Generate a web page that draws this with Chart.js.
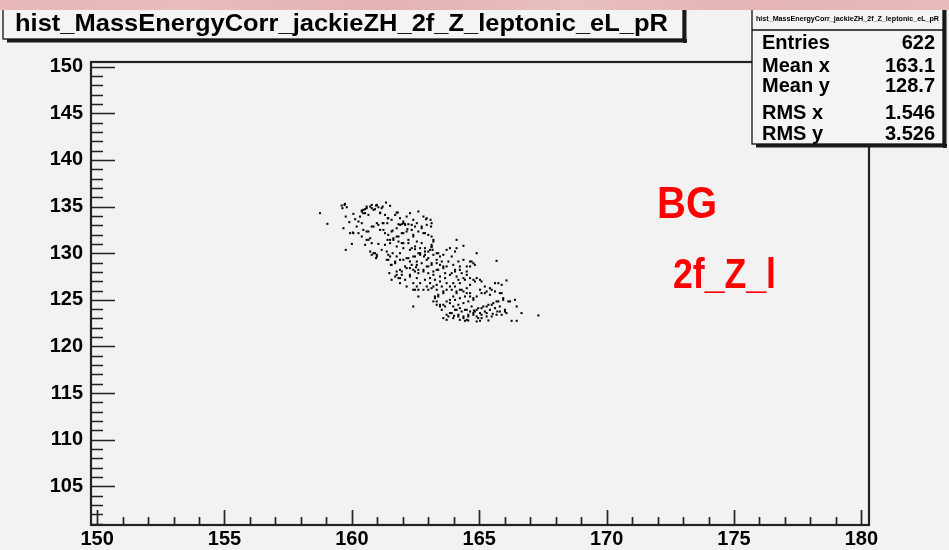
<!DOCTYPE html>
<html><head><meta charset="utf-8">
<script src="https://cdn.jsdelivr.net/npm/chart.js@4/dist/chart.umd.min.js"></script>
<style>
html,body{margin:0;padding:0;background:#f2f2f2;overflow:hidden}
#wrap{position:relative;width:949px;height:550px}
canvas{display:block}
</style></head>
<body><div id="wrap"><canvas id="c" width="949" height="550"></canvas></div>
<script>
const titleText = "hist_MassEnergyCorr_jackieZH_2f_Z_leptonic_eL_pR";
const statsLabels = ["Entries", "Mean x", "Mean y", "RMS x", "RMS y"];
const statsValues = ["622", "163.1", "128.7", "1.546", "3.526"];
const noteLines = ["BG", "2f_Z_l"];
const xTicks = [150, 155, 160, 165, 170, 175, 180];
const yTicks = [105, 110, 115, 120, 125, 130, 135, 140, 145, 150];
const xRange = [149.76, 180.3];
const yRange = [100.86, 150.5];

// scatter points: mass (x) and energy (y)
const massX = [
158.75,159.04,159.60,159.71,159.80,159.76,159.67,159.90,160.06,160.13,159.93,160.04,160.00,159.76,160.26,160.39,160.45,160.52,160.58,160.65,
160.72,160.78,160.85,160.91,160.98,161.04,161.11,161.17,161.34,161.50,161.30,161.43,161.21,160.98,160.78,160.58,160.39,160.65,160.78,161.04,
160.72,160.85,160.98,160.95,161.24,161.39,161.56,161.70,161.76,161.89,162.02,162.15,162.28,162.61,162.81,162.94,163.09,163.13,162.94,162.74,
162.55,162.35,162.09,161.89,161.76,161.56,161.43,161.50,161.63,161.83,162.02,162.15,162.41,162.61,162.87,163.00,163.13,163.20,163.13,163.07,
162.87,162.68,162.48,162.35,162.22,161.96,161.76,161.60,161.43,161.37,161.53,161.70,161.89,162.15,162.28,162.48,162.68,162.87,162.94,162.74,
162.55,162.41,162.28,162.09,161.89,161.76,161.70,161.83,161.96,162.28,162.48,162.61,162.81,163.00,163.13,163.33,163.39,163.59,163.72,163.85,
164.11,164.38,164.11,163.92,163.79,163.59,163.46,163.33,163.20,163.07,162.87,162.68,162.55,162.48,162.61,162.41,162.81,163.00,163.20,163.33,
163.46,163.66,163.85,164.05,164.24,164.51,164.64,164.77,164.90,165.68,165.03,165.09,164.83,164.64,164.51,164.38,164.18,163.98,163.85,163.72,
163.59,163.39,163.26,163.20,163.33,163.46,163.59,163.72,163.85,163.98,164.11,164.24,164.38,164.51,164.64,164.77,164.90,165.09,165.29,165.49,
165.62,165.75,165.88,166.07,165.88,165.94,165.68,165.49,165.29,165.09,164.90,164.77,164.64,164.44,164.24,164.05,163.85,163.72,163.59,163.72,
163.98,164.18,164.38,164.57,164.77,164.96,165.09,165.29,165.49,165.68,165.81,166.01,166.21,166.40,166.47,166.66,166.27,166.47,167.32,164.24,
164.51,164.90,
160.06,159.63,159.73,160.39,160.45,160.52,160.32,160.19,160.39,160.45,160.26,160.58,160.65,160.72,160.52,160.78,160.91,160.98,
160.58,160.78,160.95,161.21,161.11,161.41,161.24,161.04,160.85,161.11,161.30,161.60,161.40,161.50,161.30,161.17,161.37,161.50,161.43,161.56,
161.70,161.47,161.56,161.89,
161.80,162.02,161.83,161.96,162.09,162.22,162.41,162.48,162.35,162.18,161.96,161.76,161.63,161.83,162.02,162.22,162.41,162.55,162.48,162.28,
162.02,161.89,161.76,162.02,162.22,162.41,162.61,162.55,162.35,162.15,161.96,161.76,161.89,162.09,162.28,162.52,162.61,162.55,162.41,162.15,
162.41,162.61,
162.91,163.11,162.74,162.81,163.20,163.13,163.13,163.17,163.00,162.87,162.74,162.68,162.83,163.00,163.20,163.33,163.46,163.53,163.33,163.13,
162.94,162.81,163.00,163.20,163.39,163.59,163.72,163.66,163.46,163.26,163.07,162.94,163.13,163.33,163.53,163.72,163.59,163.39,163.26,163.33,
163.46,163.66,163.53,
164.05,163.98,164.18,164.38,164.24,164.05,163.92,164.11,164.31,164.51,164.64,164.70,164.83,164.44,164.24,164.05,163.92,164.11,164.31,164.51,
164.64,164.77,164.90,164.64,164.44,164.24,164.05,163.85,163.98,164.18,164.38,164.57,164.77,164.70,164.51,164.31,164.11,163.92,163.79,164.01,
164.18,164.38,164.57,164.79,164.44,164.57,
165.22,165.42,165.03,165.22,165.42,165.62,165.81,165.94,165.75,165.55,165.36,165.16,164.96,164.83,165.03,165.22,165.42,165.62,165.81,166.01,
166.14,164.90,165.09,165.29,165.53,165.71,165.88,166.07,165.03,165.36
];
const energyY = [
134.29,133.15,135.11,135.18,134.93,133.93,132.68,133.33,134.22,133.65,132.15,132.22,131.00,130.36,133.40,134.47,134.65,134.29,134.83,134.11,
135.00,135.18,134.65,134.72,135.18,134.93,134.36,134.83,135.43,135.08,134.11,133.75,133.22,133.22,132.86,132.33,131.79,131.43,131.08,131.00,
130.18,130.00,129.83,129.47,132.50,133.22,133.58,134.11,134.36,133.75,133.22,133.93,134.29,134.47,133.93,133.75,133.58,133.22,133.04,132.86,
133.22,133.04,133.04,133.04,132.68,132.33,131.97,131.43,131.61,131.79,132.15,132.33,131.97,132.33,132.15,131.97,131.79,131.25,130.72,130.36,
130.18,130.54,130.43,130.54,131.08,131.08,130.72,130.00,129.83,129.29,128.75,129.11,129.29,129.47,129.11,129.65,129.83,129.83,129.29,128.93,
128.75,128.22,128.40,128.58,128.22,128.04,127.50,127.33,127.68,127.68,128.04,127.86,128.22,128.58,128.93,129.29,130.00,129.83,130.36,130.54,
131.43,130.79,130.54,129.65,129.11,128.58,128.75,128.22,127.68,127.33,127.15,126.79,126.43,126.08,125.36,124.29,126.08,126.08,126.43,126.61,
126.97,127.33,127.68,128.04,128.22,128.58,129.11,128.93,130.00,129.18,127.15,126.97,126.97,127.33,127.68,127.33,127.15,126.79,126.43,126.08,
125.72,125.36,125.18,124.83,124.47,124.29,124.47,124.83,125.00,125.36,125.72,126.08,125.90,125.72,125.36,125.18,125.36,125.72,125.90,126.08,
126.79,126.79,126.61,127.08,125.72,125.00,124.83,124.47,124.29,124.11,123.93,123.58,123.75,123.93,124.11,123.93,123.58,123.40,123.04,122.86,
123.04,123.22,123.04,123.22,123.40,123.04,123.40,123.58,123.22,123.40,123.75,123.75,124.83,125.00,124.29,123.58,122.75,122.75,123.33,122.86,
122.86,122.68,
132.15,134.83,135.29,134.58,134.29,134.72,133.93,132.86,133.22,132.50,132.15,131.43,132.33,131.61,130.90,129.83,130.00,129.65,
135.00,134.83,135.11,135.00,134.29,133.75,133.22,133.04,132.86,132.50,132.15,132.43,131.43,131.08,130.90,130.36,130.18,129.65,129.29,128.75,
128.93,127.86,127.15,126.79,
134.36,133.40,133.11,133.11,133.11,133.11,133.58,132.86,132.50,132.58,132.15,131.79,131.43,131.25,131.08,131.43,131.79,131.25,130.72,130.36,
130.54,130.00,129.65,129.29,129.47,129.65,130.00,129.11,128.75,128.40,128.04,127.68,127.33,127.15,127.50,128.50,128.22,127.33,126.79,126.43,
126.08,126.08,
133.65,132.86,132.68,132.15,131.43,130.90,130.65,130.36,130.18,130.54,131.08,130.00,129.65,129.47,129.83,130.00,129.65,129.11,128.93,128.75,
128.58,128.04,127.86,128.04,128.22,128.40,128.58,127.86,127.50,127.15,126.79,126.43,126.25,126.08,126.43,126.79,125.90,125.54,125.36,124.83,
124.47,124.29,123.93,
130.18,128.75,129.11,129.29,128.58,128.22,127.86,127.50,127.86,128.04,128.58,129.11,128.75,127.15,126.79,126.43,126.08,125.90,126.08,126.25,
126.61,127.15,127.33,125.72,125.36,125.18,125.00,124.65,124.29,124.47,124.65,124.83,125.00,124.29,123.93,123.75,123.93,123.58,123.22,123.29,
123.40,123.22,123.40,123.86,122.75,122.79,
126.43,126.25,126.08,125.72,125.54,125.90,125.72,125.18,124.83,124.65,124.47,124.29,124.11,123.75,123.58,123.75,123.93,124.11,124.29,123.93,
124.83,123.22,123.04,123.22,123.50,123.75,123.40,123.58,122.75,122.79
];

const points = massX.map((x, i) => ({ x: x, y: energyY[i] }));

function fitText(ctx, text, x, y, w, font, align) {
  ctx.save();
  ctx.font = font;
  const m = ctx.measureText(text).width;
  const s = w / m;
  ctx.translate(x, y);
  ctx.scale(s, 1);
  ctx.textAlign = align || 'left';
  ctx.textBaseline = 'alphabetic';
  ctx.fillText(text, 0, 0);
  ctx.restore();
}

function shadowBox(ctx, l, t, r, b) {
  ctx.save();
  ctx.fillStyle = '#1a1a1a';
  ctx.fillRect(l + 4, b, r - l, 3.5);
  ctx.fillRect(r, t + 4, 3.5, b - t);
  ctx.fillStyle = '#f4f4f4';
  ctx.fillRect(l, t, r - l, b - t);
  ctx.strokeStyle = '#111';
  ctx.lineWidth = 1.3;
  ctx.strokeRect(l, t, r - l, b - t);
  ctx.restore();
}

const rootFrame = {
  id: 'rootFrame',
  beforeDraw(chart) {
    const ctx = chart.ctx;
    ctx.save();
    ctx.fillStyle = '#f2f2f2';
    ctx.fillRect(0, 0, chart.width, chart.height);
    ctx.restore();
  },
  afterDatasetsDraw(chart) {
    const ctx = chart.ctx;
    const a = chart.chartArea;
    const xs = chart.scales.x, ys = chart.scales.y;
    ctx.save();
    ctx.strokeStyle = '#222';
    ctx.lineWidth = 1.7;
    ctx.beginPath();
    for (let v = Math.ceil(yRange[0]); v <= Math.floor(yRange[1]); v++) {
      const py = Math.round(ys.getPixelForValue(v)) + 0.5;
      const len = v % 5 === 0 ? 24 : 12;
      ctx.moveTo(a.left, py); ctx.lineTo(a.left + len, py);
    }
    for (let v = Math.ceil(xRange[0]); v <= Math.floor(xRange[1]); v++) {
      const px = Math.round(xs.getPixelForValue(v)) + 0.5;
      const len = v % 5 === 0 ? 15 : 8;
      ctx.moveTo(px, a.bottom); ctx.lineTo(px, a.bottom - len);
    }
    ctx.stroke();
    ctx.lineWidth = 2.2;
    ctx.strokeStyle = '#222';
    ctx.strokeRect(a.left, a.top, a.right - a.left, a.bottom - a.top);
    ctx.restore();

    // title box
    shadowBox(ctx, 3, 2, 683, 39);
    ctx.fillStyle = '#000';
    fitText(ctx, titleText, 15, 31, 653, 'bold 24px "Liberation Sans", Arial, sans-serif');

    // stats box
    shadowBox(ctx, 752, 2, 943, 144);
    ctx.save();
    ctx.strokeStyle = '#111'; ctx.lineWidth = 1.3;
    ctx.beginPath(); ctx.moveTo(752, 30); ctx.lineTo(943, 30); ctx.stroke();
    ctx.restore();
    ctx.fillStyle = '#000';
    fitText(ctx, titleText, 756, 21, 183, 'bold 7px "Liberation Sans", Arial, sans-serif');
    const base = [48.5, 71.5, 92, 119, 139.5];
    ctx.font = 'bold 20px "Liberation Sans", Arial, sans-serif';
    for (let i = 0; i < statsLabels.length; i++) {
      ctx.textAlign = 'left';
      ctx.fillText(statsLabels[i], 762, base[i]);
      ctx.textAlign = 'right';
      ctx.fillText(statsValues[i], 935, base[i]);
    }

    // red annotation
    ctx.fillStyle = '#ff0000';
    fitText(ctx, noteLines[0], 657, 217.5, 60, 'bold 45px "Liberation Sans", Arial, sans-serif');
    fitText(ctx, noteLines[1], 673, 287.5, 103, 'bold 43px "Liberation Sans", Arial, sans-serif');

    // pink blurred strip at the top
    const g = ctx.createLinearGradient(0, 0, 949, 0);
    g.addColorStop(0, '#e7b7b9');
    g.addColorStop(0.2, '#e9bcbd');
    g.addColorStop(0.4, '#e3b2b4');
    g.addColorStop(0.6, '#e9bfc0');
    g.addColorStop(0.8, '#e4b4b6');
    g.addColorStop(1, '#e8bbbc');
    ctx.fillStyle = g;
    ctx.fillRect(0, 0, 949, 10);
  }
};

Chart.register(rootFrame);

new Chart(document.getElementById('c'), {
  type: 'scatter',
  data: {
    datasets: [{
      data: points,
      pointStyle: 'rect',
      pointRadius: 1.45,
      pointHoverRadius: 1.45,
      backgroundColor: '#000',
      borderWidth: 0
    }]
  },
  options: {
    responsive: false,
    animation: false,
    devicePixelRatio: 1,
    events: [],
    layout: { padding: { left: 0, top: 62, right: 80, bottom: 0 } },
    plugins: { legend: { display: false }, tooltip: { enabled: false }, title: { display: false } },
    scales: {
      x: {
        type: 'linear', min: xRange[0], max: xRange[1],
        grid: { display: false, drawTicks: false, tickLength: 0 }, border: { display: false },
        afterBuildTicks: s => { s.ticks = xTicks.map(v => ({ value: v })); },
        afterFit: s => { s.height = 25; },
        ticks: { color: '#000', padding: 2, maxRotation: 0, autoSkip: false,
          font: { family: '"Liberation Sans", Arial, sans-serif', size: 20, weight: 'bold' } }
      },
      y: {
        type: 'linear', min: yRange[0], max: yRange[1],
        grid: { display: false, drawTicks: false, tickLength: 0 }, border: { display: false },
        afterBuildTicks: s => { s.ticks = yTicks.map(v => ({ value: v })); },
        afterFit: s => { s.width = 91; },
        ticks: { color: '#000', padding: 8, autoSkip: false,
          font: { family: '"Liberation Sans", Arial, sans-serif', size: 20, weight: 'bold' } }
      }
    }
  }
});
</script>
</body></html>
